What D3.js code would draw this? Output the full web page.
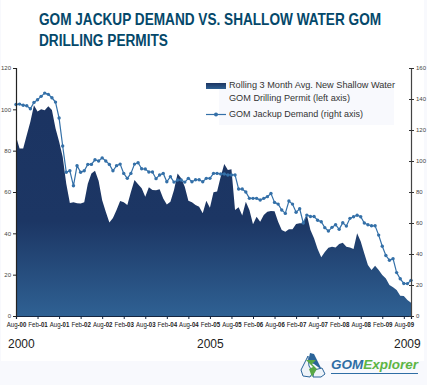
<!DOCTYPE html>
<html>
<head>
<meta charset="utf-8">
<script src="https://cdn.jsdelivr.net/npm/d3@7"></script>
<style>
    html, body { margin: 0; padding: 0; background: #f8f9fd; }
    svg { display: block; }
    text { font-family: "Liberation Sans", sans-serif; }
</style>
</head>
<body>
<div id="chart"></div>
<script>
const titleLines = ["GOM JACKUP DEMAND VS. SHALLOW WATER GOM", "DRILLING PERMITS"];
const legendPermit = ["Rolling 3 Month Avg. New Shallow Water", "GOM  Drilling Permit (left axis)"];
const legendDemand = "GOM Jackup Demand (right axis)";
const yearLabels = ["2000", "2005", "2009"];

// monthly from Aug-00
const permits = [86.8, 81, 81, 87.6, 94, 102, 98.9, 100, 99.6, 101.5, 99.7, 90.8, 84.4, 77, 64, 54.7, 55, 54.5, 54.4, 55,
    64, 69, 70.3, 65.4, 56, 50.5, 45.3, 47.4, 51.3, 55.7, 55, 53.7, 60, 65.8, 63.7, 61.8, 57.7, 62.3, 61, 60.8,
    61.3, 56.9, 54, 55.3, 61, 69, 66.6, 62.6, 55.8, 55, 53.7, 52.9, 49.7, 55.8, 52.4, 59.9, 60.2, 67.4, 73.6, 70.7,
    71, 51.3, 52.6, 48.6, 55.3, 51.3, 44.4, 48, 45.6, 48.9, 50.5, 50.8, 50.7, 45.6, 41.6, 40.8, 42, 42, 44.5, 44.9,
    44.9, 48.9, 41.6, 37.6, 32.4, 28.4, 31, 33, 33.5, 33.2, 34.8, 35.5, 33.5, 33.2, 32.4, 40, 36, 30.3, 24.7, 22.3,
    24.3, 22.3, 19.8, 18.2, 15, 13.9, 12.6, 9.8, 9.7, 7.7, 6.4];
const demand = [136.5, 136.7, 136, 135.6, 133.7, 137.8, 139.5, 141.7, 143.8, 143, 140.8, 138, 127.7, 109.7, 92.7, 93.7, 84, 97, 92.7, 93.7,
    97.8, 97.8, 100.8, 100, 102, 100, 97.8, 93.7, 97, 98, 92, 88.8, 92, 98, 98.9, 95, 94.8, 92.9, 92.9, 88.6,
    91, 92, 86.6, 89.9, 86.4, 87.7, 87.7, 86.4, 88.8, 86.6, 87.9, 87.9, 86.6, 88.8, 88.8, 92, 92, 91.6, 91.6, 91,
    91, 91, 81.9, 81.9, 80, 75.9, 75.9, 75.9, 74.8, 75.9, 77, 79, 73.3, 72.2, 68.4, 66.2, 74.2, 72.2, 66.9, 69.2,
    60, 65.1, 64.2, 64.2, 61.8, 60.8, 57, 54.8, 57.2, 58.9, 55.9, 60.2, 58, 63, 64, 65, 64, 60, 58.9, 58.2,
    58.2, 52.2, 45, 39, 36, 37, 28, 24, 21, 20.9, 23];
const monthTicks = [0, 6, 12, 18, 24, 30, 36, 42, 48, 54, 60, 66, 72, 78, 84, 90, 96, 102, 108];
const monthLabels = ["Aug-00", "Feb-01", "Aug-01", "Feb-02", "Aug-02", "Feb-03", "Aug-03", "Feb-04", "Aug-04", "Feb-05",
    "Aug-05", "Feb-06", "Aug-06", "Feb-07", "Aug-07", "Feb-08", "Aug-08", "Feb-09", "Aug-09"];
const leftTicks = [0, 20, 40, 60, 80, 100, 120];
const rightTicks = [0, 20, 40, 60, 80, 100, 120, 140, 160];

const svg = d3.select("#chart").append("svg").attr("width", 427).attr("height", 385);

const x = d3.scaleLinear().domain([0, permits.length - 1]).range([16, 411]);
const yLeft = d3.scaleLinear().domain([0, 120]).range([316, 68]);
const yRight = d3.scaleLinear().domain([0, 160]).range([316, 68]);

// white sheet, the page tint shows at the edges and below
svg.append("rect").attr("x", 1).attr("y", 0).attr("width", 423).attr("height", 361).attr("fill", "#fff");

const defs = svg.append("defs");
const grad = defs.append("linearGradient").attr("id", "areaFill")
    .attr("gradientUnits", "userSpaceOnUse")
    .attr("x1", 0).attr("x2", 0).attr("y1", 68).attr("y2", 316);
grad.append("stop").attr("offset", "0%").attr("stop-color", "#1b3361");
grad.append("stop").attr("offset", "62%").attr("stop-color", "#1c3664");
grad.append("stop").attr("offset", "100%").attr("stop-color", "#2f6193");
const legendGrad = defs.append("linearGradient").attr("id", "legendFill")
    .attr("x1", 0).attr("x2", 0).attr("y1", 0).attr("y2", 1);
legendGrad.append("stop").attr("offset", "0%").attr("stop-color", "#1b3361");
legendGrad.append("stop").attr("offset", "100%").attr("stop-color", "#2f6193");

// no condensed face installed, so the title is squeezed to the reference's widths
const titleWidths = [342, 129];
svg.selectAll(".title").data(titleLines).enter().append("text")
    .attr("class", "title")
    .attr("fill", "#04486a")
    .attr("font-weight", "bold")
    .attr("font-size", 16.8)
    .text(d => d)
    .attr("transform", function (d, i) {
        const squeeze = titleWidths[i] / this.getComputedTextLength();
        return `translate(39, ${25 + i * 20.5}) scale(${squeeze}, 1)`;
    });

// legend box sits behind the marks
svg.append("rect").attr("x", 219).attr("y", 80).attr("width", 175).attr("height", 45).attr("fill", "#f8f9fd");

svg.append("path")
    .datum(permits)
    .attr("fill", "url(#areaFill)")
    .attr("d", d3.area()
        .x((d, i) => x(i))
        .y0(yLeft(0))
        .y1(d => yLeft(d)));

svg.append("path")
    .datum(demand)
    .attr("fill", "none")
    .attr("stroke", "#3470a8")
    .attr("stroke-width", 1.2)
    .attr("d", d3.line()
        .x((d, i) => x(i))
        .y(d => yRight(d)));

svg.append("g").selectAll("circle").data(demand).enter().append("circle")
    .attr("cx", (d, i) => x(i))
    .attr("cy", d => yRight(d))
    .attr("r", 1.7)
    .attr("fill", "#3470a8");

// axes
const bottomAxis = d3.axisBottom(x)
    .tickValues(monthTicks)
    .tickSize(3)
    .tickPadding(3)
    .tickFormat((d, i) => monthLabels[i]);
const gx = svg.append("g").attr("transform", "translate(0,316)").call(bottomAxis);
gx.select(".domain").attr("stroke", "#14253f").attr("stroke-width", 1.2);
gx.selectAll(".tick line").attr("stroke", "#14253f");
gx.selectAll("text")
    .attr("font-family", "'Liberation Sans', sans-serif")
    .attr("font-size", 6.8)
    .attr("fill", "#222")
    .attr("textLength", 19.5)
    .attr("lengthAdjust", "spacingAndGlyphs")
    .each(function (d, i) {
        // the year part of each label is heavier in the reference
        const label = d3.select(this).text(null);
        label.append("tspan").text(monthLabels[i].slice(0, 3));
        label.append("tspan").attr("font-weight", "bold").text(monthLabels[i].slice(3));
    });

const gl = svg.append("g").attr("transform", "translate(16,0)")
    .call(d3.axisLeft(yLeft).tickValues(leftTicks).tickSize(3).tickPadding(2));
gl.select(".domain").attr("stroke", "#222").attr("stroke-width", 1.2);
gl.selectAll(".tick line").attr("stroke", "#222");
gl.selectAll("text").attr("font-family", "'Liberation Sans', sans-serif").attr("font-size", 6).attr("fill", "#444");

const gr = svg.append("g").attr("transform", "translate(411,0)")
    .call(d3.axisRight(yRight).tickValues(rightTicks).tickSize(3).tickPadding(2));
gr.select(".domain").attr("stroke", "#444").attr("stroke-width", 1.2);
gr.selectAll(".tick line").attr("stroke", "#333").attr("x1", -2);
gr.selectAll("text").attr("font-family", "'Liberation Sans', sans-serif").attr("font-size", 6).attr("fill", "#444");

// legend
svg.append("rect").attr("x", 206).attr("y", 83).attr("width", 20).attr("height", 6).attr("fill", "url(#legendFill)");
svg.append("line").attr("x1", 206).attr("x2", 226).attr("y1", 114.5).attr("y2", 114.5)
    .attr("stroke", "#3470a8").attr("stroke-width", 1.2);
svg.append("circle").attr("cx", 216).attr("cy", 114.5).attr("r", 2).attr("fill", "#3470a8");

svg.selectAll(".legend-permit").data(legendPermit).enter().append("text")
    .attr("class", "legend-permit")
    .attr("x", 229)
    .attr("y", (d, i) => 88 + i * 12.5)
    .attr("font-size", 9.3)
    .attr("fill", "#333")
    .attr("textLength", (d, i) => [166, 121][i])
    .attr("lengthAdjust", "spacingAndGlyphs")
    .text(d => d);
svg.append("text").attr("x", 229).attr("y", 117).attr("font-size", 9.3).attr("fill", "#333")
    .attr("textLength", 134).attr("lengthAdjust", "spacingAndGlyphs")
    .text(legendDemand);

// year labels under the axis
svg.selectAll(".year").data(yearLabels).enter().append("text")
    .attr("class", "year")
    .attr("x", (d, i) => [8, 197, 394][i])
    .attr("y", 348)
    .attr("font-size", 12)
    .attr("fill", "#222")
    .text(d => d);

// logo
const logo = svg.append("g").attr("transform", "translate(300,353)");
logo.append("path").attr("d", "M10 0 L14 1 L22 17 L14 11 L8 9 Z").attr("fill", "#2b6499");
logo.append("path").attr("d", "M8 3 L1 17 L3 23 L10 24 L13 19 L9 13 Z").attr("fill", "#eef3f8")
    .attr("stroke", "#2b6499").attr("stroke-width", 1);
logo.append("path").attr("d", "M14 17 L22 15 L25 21 L21 24 L13 24 Z").attr("fill", "#eef3f8")
    .attr("stroke", "#2b6499").attr("stroke-width", 1);
logo.append("path").attr("d", "M6 7 L16 7 L12 11 L17 16 L12 24 L9 16 L13 14 Z").attr("fill", "#58a845");

const logoText = svg.append("text").attr("x", 331).attr("y", 369)
    .attr("font-family", "'Liberation Sans', sans-serif")
    .attr("font-size", 12.8).attr("font-weight", "bold").attr("font-style", "italic")
    .attr("textLength", 87).attr("lengthAdjust", "spacingAndGlyphs");
logoText.append("tspan").attr("fill", "#2f6ea5").text("GOM");
logoText.append("tspan").attr("fill", "#5db544").text("Explorer");
svg.append("line").attr("x1", 331).attr("x2", 418).attr("y1", 373.5).attr("y2", 373.5)
    .attr("stroke", "#2f6ea5").attr("stroke-width", 1);
</script>
</body>
</html>
